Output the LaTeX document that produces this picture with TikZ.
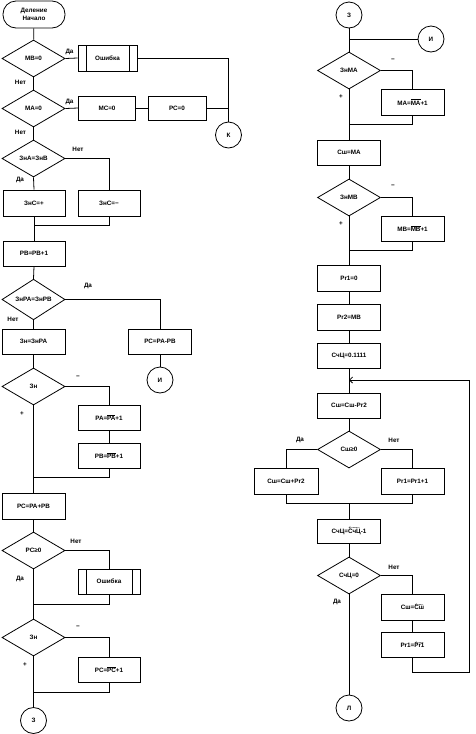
\documentclass[tikz,border=0pt]{standalone}
\usepackage{fontspec}
\setmainfont{Liberation Sans}
\usetikzlibrary{shapes.geometric,arrows.meta}
\newcommand\ovl[1]{$\overline{\hbox{#1}}$}
\newcommand\ola[1]{$\overleftarrow{\hbox{#1}}$}
\begin{document}
\begin{tikzpicture}[x=1pt,y=-1pt,
  every node/.style={font=\fontsize{6.3}{7.5}\selectfont\bfseries, inner sep=0pt},
  every path/.style={line width=0.8pt},
  box/.style={draw, rectangle, minimum width=63pt, minimum height=25pt},
  dia/.style={draw, diamond, minimum width=63pt, minimum height=37pt},
  term/.style={draw, rectangle, rounded corners=13pt, minimum width=62pt, minimum height=27pt, align=center},
  circ/.style={draw, circle, minimum size=26pt},
  sub/.style={box, path picture={
     \draw ([xshift=8pt]path picture bounding box.north west) -- ([xshift=8pt]path picture bounding box.south west);
     \draw ([xshift=-8pt]path picture bounding box.north east) -- ([xshift=-8pt]path picture bounding box.south east);}},
  lab/.style={font=\fontsize{6.3}{7.5}\selectfont\bfseries}
]
\useasboundingbox (0,0) rectangle (475,734);
% left column
\node[term] (start) at (34,14.5) {Деление\\Начало};
\node[dia] (d1) at (33.5,58.5) {МВ=0};
\node[sub, minimum width=59pt, minimum height=26pt] (err1) at (107.5,58) {Ошибка};
\node[circ] (K) at (228.5,135) {К};
\node[dia] (d2) at (33.5,108.5) {МА=0};
\node[box, minimum width=57pt, minimum height=24pt] (mc0) at (107,108) {МС=0};
\node[box, minimum width=58pt, minimum height=24pt] (pc0) at (177,108) {РС=0};
\node[dia] (d3) at (33.5,158.5) {ЗнА=ЗнВ};
\node[box, minimum width=62pt, minimum height=26pt] (s1) at (34,203) {ЗнС=+};
\node[box, minimum width=62pt, minimum height=26pt] (s2) at (109,203) {ЗнС=−};
\coordinate (j1) at (34,225);
\node[box, minimum width=62pt] (pb1) at (34,253.5) {РВ=РВ+1};
\node[dia] (d4) at (33.5,299.5) {ЗнРА=ЗнРВ};
\node[box] (zn) at (33.5,341.5) {Зн=ЗнРА};
\node[box] (pcab) at (160,341.5) {РС=РА-РВ};
\node[circ] (I1) at (160,380) {И};
\node[dia] (d5) at (33.5,386.5) {Зн};
\node[box, minimum width=62pt] (pa) at (109,417.5) {РА=\ovl{РА}+1};
\node[box, minimum width=62pt] (pb2) at (109,455.5) {РВ=\ovl{РВ}+1};
\coordinate (j2) at (33.5,477);
\node[box, minimum height=26pt] (pcsum) at (33.5,506) {РС=РА+РВ};
\node[dia] (d6) at (33.5,550.5) {РС≥0};
\node[sub, minimum width=62pt] (err2) at (109,581.5) {Ошибка};
\coordinate (j3) at (33.5,604);
\node[dia] (d7) at (33.5,637.5) {Зн};
\node[box, minimum width=62pt] (pcinv) at (109,669.5) {РС=\ovl{РС}+1};
\coordinate (j4) at (33.5,692);
\node[circ] (Z1) at (33.5,720.5) {З};
% left connectors
\draw (start) -- (d1);
\draw (d1.east) -- (err1.west);
\draw (err1.east) -| (K.north);
\draw (d1.south) -- (d2.north);
\draw (d2.east) -- (mc0.west);
\draw (mc0) -- (pc0);
\draw (pc0.east) -- (K.north |- pc0.east);
\draw (d2.south) -- (d3.north);
\draw (d3.east) -| (s2.north);
\draw (d3.south) -- (s1.north);
\draw (s2.south) |- (j1);
\draw (s1.south) -- (pb1.north);
\draw (pb1.south) -- (d4.north);
\draw (d4.east) -| (pcab.north);
\draw (pcab.south) -- (I1.north);
\draw (d4.south) -- (zn.north);
\draw (zn.south) -- (d5.north);
\draw (d5.east) -| (pa.north);
\draw (pa.south) -- (pb2.north);
\draw (pb2.south) |- (j2);
\draw (d5.south) -- (pcsum.north);
\draw (pcsum.south) -- (d6.north);
\draw (d6.east) -| (err2.north);
\draw (err2.south) |- (j3);
\draw (d6.south) -- (d7.north);
\draw (d7.east) -| (pcinv.north);
\draw (pcinv.south) |- (j4);
\draw (d7.south) -- (Z1.north);
% left labels
\node[lab] (l1) at (69.5,51.5) {Да};
\node[lab] (l2) at (20.5,82) {Нет};
\node[lab] (l3) at (69.5,101.5) {Да};
\node[lab] (l4) at (20.5,132) {Нет};
\node[lab] (l5) at (78,149) {Нет};
\node[lab] (l6) at (20,180) {Да};
\node[lab] (l7) at (88,286) {Да};
\node[lab] (l8) at (13,319) {Нет};
\node[lab] (l9) at (78,377) {−};
\node[lab] (l10) at (22,414) {+};
\node[lab] (l11) at (76,541) {Нет};
\node[lab] (l12) at (20,579) {Да};
\node[lab] (l13) at (78,627) {−};
\node[lab] (l14) at (25,665) {+};
% right column
\node[circ] (Z2) at (349,15) {З};
\coordinate (j5) at (349,39);
\node[circ] (I2) at (431,39) {И};
\node[dia] (dma) at (349,70.5) {ЗнМА};
\node[box, minimum height=26pt] (mainv) at (412.5,102) {МА=\ovl{МА}+1};
\coordinate (j6) at (349,124);
\node[box] (shma) at (349,152.5) {Сш=МА};
\node[dia] (dmb) at (349,197.5) {ЗнМВ};
\node[box] (mbinv) at (412.5,228.5) {МВ=\ovl{МВ}+1};
\coordinate (j7) at (349,250);
\node[box, minimum height=26pt] (pr10) at (349,278) {Pr1=0};
\node[box, minimum height=26pt] (pr2) at (349,317) {Pr2=МВ};
\node[box] (cnt) at (349,355.5) {СчЦ=0.1111};
\coordinate (ja) at (349,380);
\node[box] (subt) at (349,405.5) {Сш=Сш-Pr2};
\node[dia] (dsh) at (349,449.5) {Сш≥0};
\node[box, minimum width=64pt, minimum height=26pt] (shadd) at (286,481) {Сш=Сш+Pr2};
\node[box, minimum height=26pt] (pr1inc) at (412.5,481) {Pr1=Pr1+1};
\coordinate (j8) at (349,503);
\node[box, minimum height=24pt] (cntdec) at (349,531) {СчЦ=\ola{СчЦ}-1};
\node[dia] (dcnt) at (349,575.5) {СчЦ=0};
\node[box, minimum height=26pt] (shsh) at (412.5,607) {Сш=\ola{Сш}};
\node[box] (pr1sh) at (412.5,644.5) {Pr1=\ola{Pr1}};
\coordinate (lp) at (469,672);
\node[circ] (L) at (349,708) {Л};
% right connectors
\draw (Z2.south) -- (dma.north);
\draw (j5) -- (I2.west);
\draw (dma.east) -| (mainv.north);
\draw (mainv.south) |- (j6);
\draw (dma.south) -- (shma.north);
\draw (shma.south) -- (dmb.north);
\draw (dmb.east) -| (mbinv.north);
\draw (mbinv.south) |- (j7);
\draw (dmb.south) -- (pr10.north);
\draw (pr10) -- (pr2);
\draw (pr2) -- (cnt);
\draw (cnt.south) -- (subt.north);
\draw (subt.south) -- (dsh.north);
\draw (dsh.west) -| (shadd.north);
\draw (dsh.east) -| (pr1inc.north);
\draw (shadd.south) |- (pr1inc.south |- j8) -- (pr1inc.south);
\draw (j8) -- (cntdec.north);
\draw (cntdec.south) -- (dcnt.north);
\draw (dcnt.east) -| (shsh.north);
\draw (shsh) -- (pr1sh);
\draw[-{Straight Barb[length=3pt,width=6pt]}] (pr1sh.south) |- (lp) |- (ja);
\draw (dcnt.south) -- (L.north);
% right labels
\node[lab] (r1) at (393,60) {−};
\node[lab] (r2) at (341,97) {+};
\node[lab] (r3) at (393,186) {−};
\node[lab] (r4) at (341,224) {+};
\node[lab] (r5) at (300,440) {Да};
\node[lab] (r6) at (394,440) {Нет};
\node[lab] (r7) at (394,567) {Нет};
\node[lab] (r8) at (337,602) {Да};
\end{tikzpicture}
\end{document}
